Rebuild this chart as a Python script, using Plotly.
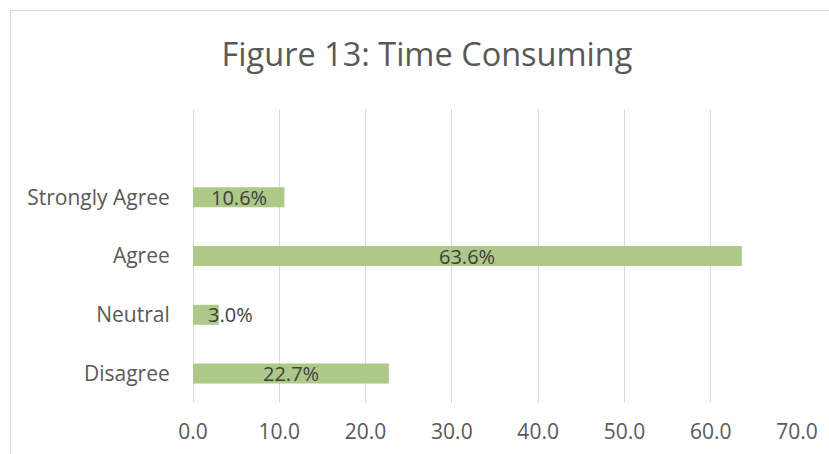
import plotly.graph_objects as go

# Survey responses (percent of respondents)
categories = ["Disagree", "Neutral", "Agree", "Strongly Agree"]
percentages = [22.7, 3.0, 63.6, 10.6]
tick_values = [0, 10, 20, 30, 40, 50, 60, 70]
tick_labels = ["0.0", "10.0", "20.0", "30.0", "40.0", "50.0", "60.0", "70.0"]

BAR_COLOR = "#ADC887"
GRID_COLOR = "#D9D9D9"
LABEL_COLOR = "#595959"
VALUE_COLOR = "#404040"
FONT = "'Open Sans', Lato, sans-serif"

W, H = 829, 454
L, R, T, B = 193, 32, 109, 51
plot_w = W - L - R
plot_h = H - T - B

positions = list(range(len(categories)))

fig = go.Figure(
    go.Bar(
        x=percentages,
        y=positions,
        orientation="h",
        marker=dict(color=BAR_COLOR, line=dict(width=0)),
        width=0.34,
        hoverinfo="skip",
    )
)

# value labels sit in the middle of each bar; a narrow bar gets its label
# starting from the bar's midpoint instead
for pos, val in zip(positions, percentages):
    fig.add_annotation(
        x=val / 2,
        y=pos,
        xref="x",
        yref="y",
        text=f"{val:.1f}%",
        showarrow=False,
        xanchor="center" if val >= 6 else "left",
        font=dict(family=FONT, size=20, color=VALUE_COLOR),
    )

# chart-area frame (top and left edges visible)
def px_to_paper_x(px):
    return (px - L) / plot_w

def px_to_paper_y(py):
    return (H - B - py) / plot_h

fig.add_shape(
    type="rect",
    xref="paper",
    yref="paper",
    x0=px_to_paper_x(10.5),
    x1=px_to_paper_x(W + 10),
    y0=px_to_paper_y(H + 10),
    y1=px_to_paper_y(10.5),
    line=dict(color=GRID_COLOR, width=1),
    fillcolor="rgba(0,0,0,0)",
    layer="below",
)

fig.update_layout(
    width=W,
    height=H,
    margin=dict(l=L, r=R, t=T, b=B, autoexpand=False),
    paper_bgcolor="white",
    plot_bgcolor="white",
    showlegend=False,
    title=dict(
        text="Figure 13: Time Consuming",
        x=427 / W,
        xref="container",
        xanchor="center",
        y=1 - 55 / H,
        yref="container",
        yanchor="middle",
        font=dict(family=FONT, size=32.5, color=LABEL_COLOR),
        automargin=False,
    ),
    xaxis=dict(
        range=[0, 70],
        tickvals=tick_values,
        ticktext=tick_labels,
        showgrid=True,
        gridcolor=GRID_COLOR,
        gridwidth=1,
        zeroline=True,
        zerolinecolor=GRID_COLOR,
        zerolinewidth=1,
        showline=False,
        ticks="outside",
        ticklen=10,
        tickcolor="rgba(0,0,0,0)",
        tickfont=dict(family=FONT, size=21, color=LABEL_COLOR),
        automargin=False,
        fixedrange=True,
    ),
    yaxis=dict(
        range=[-0.5, 4.5],
        tickvals=positions,
        ticktext=categories,
        showgrid=False,
        zeroline=False,
        showline=False,
        ticks="outside",
        ticklen=18,
        tickcolor="rgba(0,0,0,0)",
        tickfont=dict(family=FONT, size=21, color=LABEL_COLOR),
        automargin=False,
        fixedrange=True,
    ),
)

fig.write_html("out.html", config={"displayModeBar": False})
